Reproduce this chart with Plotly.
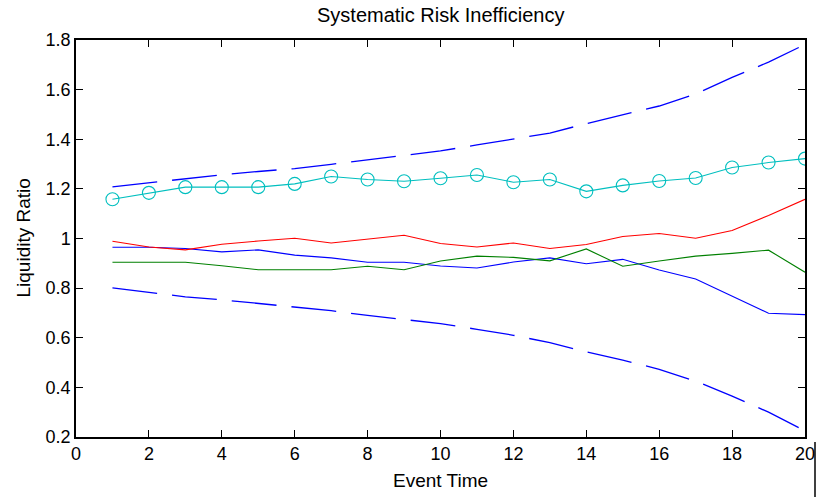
import plotly.graph_objects as go

event_time = list(range(1, 21))
upper_band = [1.208, 1.224, 1.243, 1.257, 1.270, 1.282, 1.299, 1.318, 1.336, 1.353,
              1.377, 1.402, 1.425, 1.463, 1.498, 1.534, 1.582, 1.649, 1.711, 1.782]
lower_band = [0.801, 0.784, 0.765, 0.753, 0.739, 0.726, 0.709, 0.690, 0.674, 0.657,
              0.634, 0.610, 0.580, 0.543, 0.510, 0.473, 0.425, 0.365, 0.300, 0.225]
cyan_series = [1.158, 1.184, 1.207, 1.207, 1.207, 1.220, 1.250, 1.238, 1.231, 1.243,
               1.256, 1.227, 1.238, 1.190, 1.214, 1.232, 1.244, 1.286, 1.306, 1.322]
red_series = [0.989, 0.966, 0.954, 0.977, 0.990, 1.001, 0.982, 0.997, 1.013, 0.980,
              0.966, 0.982, 0.960, 0.976, 1.008, 1.020, 1.001, 1.032, 1.093, 1.158]
blue_series = [0.965, 0.965, 0.960, 0.946, 0.954, 0.933, 0.922, 0.904, 0.904, 0.889,
               0.881, 0.905, 0.922, 0.898, 0.916, 0.873, 0.837, 0.768, 0.699, 0.693]
green_series = [0.904, 0.904, 0.904, 0.890, 0.874, 0.874, 0.874, 0.888, 0.874, 0.909,
                0.929, 0.924, 0.910, 0.958, 0.888, 0.909, 0.929, 0.940, 0.953, 0.864]

x_ticks = list(range(0, 21, 2))
y_ticks = [0.2, 0.4, 0.6, 0.8, 1.0, 1.2, 1.4, 1.6, 1.8]
y_tick_text = ["0.2", "0.4", "0.6", "0.8", "1", "1.2", "1.4", "1.6", "1.8"]

BLUE = "rgb(0,0,255)"
dash = "45px,15px"

fig = go.Figure()
fig.add_trace(go.Scatter(x=event_time, y=upper_band, mode="lines",
                         line=dict(color=BLUE, width=1.3, dash=dash)))
fig.add_trace(go.Scatter(x=event_time, y=lower_band, mode="lines",
                         line=dict(color=BLUE, width=1.3, dash=dash)))
fig.add_trace(go.Scatter(x=event_time, y=blue_series, mode="lines",
                         line=dict(color=BLUE, width=1.1)))
fig.add_trace(go.Scatter(x=event_time, y=green_series, mode="lines",
                         line=dict(color="rgb(0,128,0)", width=1.1)))
fig.add_trace(go.Scatter(x=event_time, y=red_series, mode="lines",
                         line=dict(color="rgb(255,0,0)", width=1.1)))
fig.add_trace(go.Scatter(x=event_time, y=cyan_series, mode="lines+markers",
                         line=dict(color="rgb(0,191,191)", width=1.1),
                         marker=dict(symbol="circle-open", size=13,
                                     color="rgb(0,191,191)",
                                     line=dict(width=1.1, color="rgb(0,191,191)"))))

FAM = "Liberation Sans, Arial, sans-serif"
font = dict(family=FAM, size=18, color="black")
label_font = dict(family=FAM, size=19, color="black")

L, R, T, B = 76, 805, 40, 437
W, H = 817, 497

fig.update_layout(
    width=W, height=H,
    margin=dict(l=L, r=W - R, t=T, b=H - B),
    paper_bgcolor="white", plot_bgcolor="white",
    showlegend=False,
    font=font,
    xaxis=dict(range=[0, 20], tickvals=x_ticks, ticktext=[str(v) for v in x_ticks],
               ticks="inside", ticklen=7, tickcolor="black", tickwidth=1,
               showline=True, linecolor="black", linewidth=1.5, mirror="ticks",
               showgrid=False, zeroline=False, automargin=False,
               tickfont=font),
    yaxis=dict(range=[0.2, 1.8], tickvals=y_ticks, ticktext=y_tick_text,
               ticks="inside", ticklen=7, tickcolor="black", tickwidth=1,
               showline=True, linecolor="black", linewidth=1.5, mirror="ticks",
               showgrid=False, zeroline=False, automargin=False,
               tickfont=font),
    annotations=[
        dict(text="Systematic Risk Inefficiency", xref="paper", yref="paper",
             x=0.5, y=1 + (T - 15) / (B - T), xanchor="center", yanchor="middle",
             showarrow=False, font=dict(family=FAM, size=20, color="black")),
        dict(text="Event Time", xref="paper", yref="paper",
             x=0.5, y=-(480 - B) / (B - T), xanchor="center", yanchor="middle",
             showarrow=False, font=label_font),
        dict(text="Liquidity Ratio", xref="paper", yref="paper",
             x=-(L - 23) / (R - L), y=0.5, xanchor="center", yanchor="middle",
             textangle=-90, showarrow=False, font=label_font),
    ],
    shapes=[dict(type="line", xref="paper", yref="paper",
                 x0=(815 - L) / (R - L), x1=(815 - L) / (R - L),
                 y0=(B - 442) / (B - T), y1=(B - 497) / (B - T),
                 line=dict(color="black", width=1.5))],
)

fig.write_html("out.html")
